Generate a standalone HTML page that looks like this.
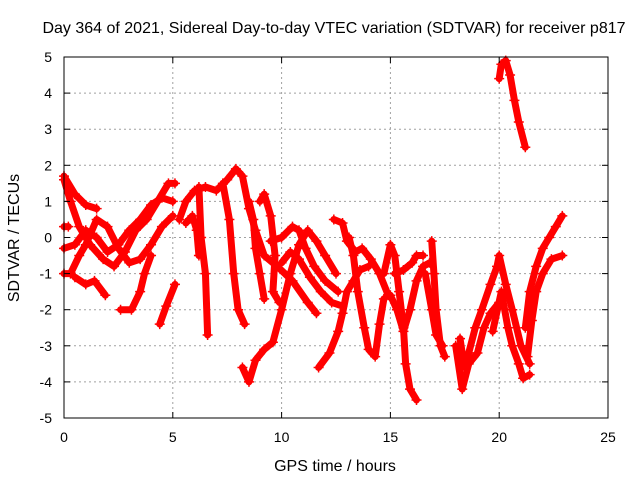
<!DOCTYPE html>
<html><head><meta charset="utf-8"><style>
body{margin:0;background:#fff;}
svg{display:block;font-family:"Liberation Sans",sans-serif;}
</style></head><body>
<svg id="chart" width="640" height="480" xmlns="http://www.w3.org/2000/svg">
<rect width="640" height="480" fill="#fff"/>
<text x="334" y="33" font-size="16" text-anchor="middle">Day 364 of 2021, Sidereal Day-to-day VTEC variation (SDTVAR) for receiver p817</text>
<text x="335" y="471" font-size="16" text-anchor="middle">GPS time / hours</text>
<text transform="translate(19,238) rotate(-90)" font-size="16" text-anchor="middle">SDTVAR / TECUs</text>
<g id="grid"></g><g id="series"></g><g id="axes"></g>
</svg>
<script>
const xTicks=[0,5,10,15,20,25];
const yTicks=[-5,-4,-3,-2,-1,0,1,2,3,4,5];
const tracks=[
[[0,1.7],[0.5,1.2],[1,0.9],[1.5,0.8]],
[[0,1.6],[0.3,1.0],[0.7,0.3],[1.2,-0.2],[1.8,-0.6],[2.3,-0.8],[2.8,-0.4],[3.3,0.2],[3.8,0.5],[4.3,1.0],[4.8,1.5],[5.1,1.5]],
[[0,-0.3],[0.5,-0.2],[1,0.2],[1.5,0],[2,-0.4],[2.5,-0.2],[3,0.2],[3.5,0.5],[4,0.9],[4.5,1.1],[5,1.0]],
[[0,-1.0],[0.3,-1.0],[0.7,-0.5],[1.0,-0.2],[1.5,0.5],[2,0.3],[2.5,-0.3],[3,-0.7],[3.5,-0.6],[4,-0.2],[4.5,0.3],[5,0.6]],
[[0.5,-1.1],[1,-1.3],[1.4,-1.2],[1.9,-1.6]],
[[2.6,-2.0],[3.1,-2.0],[3.5,-1.5],[3.7,-1.0],[4,-0.5]],
[[4.4,-2.4],[4.7,-1.9],[5.1,-1.3]],
[[0,0.3],[0.2,0.3]],
[[5.3,0.5],[5.6,1.0],[6,1.3],[6.5,1.4],[7,1.3],[7.5,1.6],[7.9,1.9],[8.2,1.7],[8.5,0.8],[8.8,0.2],[9.2,-0.5],[9.8,-0.8],[10.5,-1.2],[11.2,-1.8],[11.6,-2.1]],
[[6.2,1.4],[6.3,0],[6.5,-1.0],[6.6,-2.7]],
[[5.6,0.4],[5.9,0.6],[6.1,0.2],[6.2,-0.5]],
[[7.3,1.5],[7.6,0.5],[7.8,-1.0],[8.0,-2.0],[8.3,-2.4]],
[[8.2,-3.6],[8.5,-4.0],[8.8,-3.4],[9.2,-3.1],[9.6,-2.9],[10,-2.0],[10.4,-1.0],[10.8,-0.2],[11.2,0.2],[11.6,-0.1],[12,-0.5],[12.5,-1.0]],
[[8.5,1.0],[8.7,0.5],[8.8,-0.3],[9,-1.0],[9.2,-1.7]],
[[9.0,1.0],[9.2,1.2],[9.5,0.6],[9.7,-0.5],[9.6,-1.5],[9.9,-1.8]],
[[9.5,-0.1],[10,0],[10.5,0.3],[10.8,0.2],[11.1,-0.3],[11.5,-0.8],[12,-1.2],[12.6,-1.5]],
[[10.0,-0.7],[10.4,-0.4],[10.8,-0.6],[11.3,-1.1],[11.8,-1.5],[12.3,-1.8],[12.8,-1.9]],
[[11.7,-3.6],[12.2,-3.2],[12.6,-2.6],[12.8,-2.1],[13.0,-1.5],[13.3,-1.2],[13.6,-0.9],[14.0,-0.8]],
[[12.4,0.5],[12.8,0.4],[13.0,-0.1],[13.4,-0.4],[13.7,-0.3],[14.1,-0.6],[14.5,-1.0],[14.9,-1.6]],
[[13.1,0],[13.3,-0.5],[13.5,-1.5],[13.8,-2.5],[14.0,-3.1],[14.3,-3.3],[14.5,-2.4],[14.7,-1.7]],
[[14.7,-1.0],[15,-0.2],[15.2,-0.5],[15.4,-1.5],[15.6,-2.5],[15.7,-3.5],[15.9,-4.2],[16.2,-4.5]],
[[15.0,-1.6],[15.3,-2.0],[15.6,-2.6],[15.9,-2.0],[16.2,-1.2],[16.5,-0.8],[16.8,-0.7]],
[[15.2,-1.0],[15.6,-0.9],[16,-0.7],[16.2,-0.5],[16.5,-0.5]],
[[16.9,-0.1],[17,-1.0],[17.1,-2.0],[17.3,-3.0],[17.5,-3.3]],
[[16.6,-1.0],[16.9,-2.0],[17.1,-2.7],[17.4,-3.0]],
[[18.2,-2.8],[18.4,-3.6],[18.6,-3.2],[18.9,-2.5],[19.2,-2.0],[19.6,-1.3],[19.9,-0.8],[20.0,-0.5],[20.3,-1.3],[20.6,-2.0],[21,-3.0],[21.4,-3.5]],
[[18.0,-3.0],[18.3,-4.2],[18.6,-3.5],[19,-3.2],[19.3,-2.5],[19.6,-2.1],[20,-1.8]],
[[19.7,-2.6],[20.1,-1.5],[20.4,-2.5],[20.6,-3.0],[20.9,-3.5],[21.1,-3.9],[21.4,-3.8]],
[[20.0,4.4],[20.1,4.8],[20.3,4.9],[20.5,4.5],[20.7,3.8],[20.9,3.2],[21.2,2.5]],
[[21.2,-2.5],[21.4,-1.5],[21.7,-0.8],[22,-0.3],[22.3,0],[22.6,0.3],[22.9,0.6]],
[[21.3,-3.3],[21.5,-2.3],[21.7,-1.5],[22,-1.0],[22.4,-0.6],[22.9,-0.5]]
];
const L=64,R=608,T=57,B=418;
const xs=v=>L+(v-0)/25*(R-L);
const ys=v=>B-(v+5)/10*(B-T);
const NS='http://www.w3.org/2000/svg';
const mk=(tag,attrs,parent)=>{const e=document.createElementNS(NS,tag);for(const k in attrs)e.setAttribute(k,attrs[k]);parent.appendChild(e);return e;};
const grid=document.getElementById('grid'),axes=document.getElementById('axes'),ser=document.getElementById('series');
xTicks.forEach(t=>{
  if(t>0&&t<25){const g=mk('line',{x1:xs(t),x2:xs(t),y1:T,y2:B,stroke:'#a0a0a0','stroke-dasharray':'2,3'},grid);
  
  }
  const tx=mk('text',{x:xs(t),y:B+24,'font-size':14,'text-anchor':'middle'},axes);tx.textContent=t;
  
  
  mk('line',{x1:xs(t),x2:xs(t),y1:B,y2:B-6,stroke:'#000'},axes);
  mk('line',{x1:xs(t),x2:xs(t),y1:T,y2:T+6,stroke:'#000'},axes);
});
yTicks.forEach(t=>{
  if(t>-5&&t<5){const g=mk('line',{x1:L,x2:R,y1:ys(t),y2:ys(t),stroke:'#a0a0a0','stroke-dasharray':'2,3'},grid);
  
  }
  const tx=mk('text',{x:L-12,y:ys(t)+5,'font-size':14,'text-anchor':'end'},axes);tx.textContent=t;
  
  
  mk('line',{x1:L,x2:L+6,y1:ys(t),y2:ys(t),stroke:'#000'},axes);
  mk('line',{x1:R,x2:R-6,y1:ys(t),y2:ys(t),stroke:'#000'},axes);
});
const fr=mk('rect',{x:L,y:T,width:R-L,height:B-T,fill:'none',stroke:'#000','stroke-width':1},axes);


tracks.forEach(tr=>{
  const pl=mk('polyline',{points:tr.map(p=>xs(p[0])+','+ys(p[1])).join(' '),fill:'none',stroke:'#ff0000','stroke-width':7,'stroke-linejoin':'round','stroke-linecap':'round'},ser);
  
  
  tr.forEach(p=>{
    const x=xs(p[0]),y=ys(p[1]);
    const m=mk('path',{d:`M${x-5},${y}H${x+5}M${x},${y-5}V${y+5}`,stroke:'#ff0000','stroke-width':1.5},ser);
    
    
  });
});
</script>
</body></html>
